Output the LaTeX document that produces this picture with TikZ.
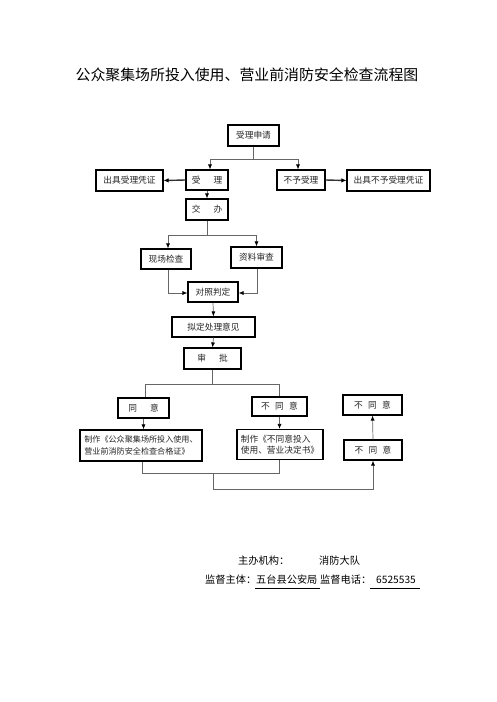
\documentclass[tikz,border=0pt]{standalone}
\usepackage{fontspec}
\setmainfont{Noto Sans CJK SC}
\usetikzlibrary{arrows.meta}
\tikzset{
  box/.style={draw=black, line width=1.1pt, minimum width=#1, inner sep=0pt, font=\fontsize{8.7}{11.5}\selectfont, text=black!85},
  box/.default=50pt,
  conn/.style={draw=black!60, line width=0.7pt},
  arr/.style={conn, -{Latex[length=5pt,width=4pt,black]}},
  tharr/.style={draw=black!80, line width=1.4pt, -{Latex[length=5pt,width=4.5pt,black]}},
}
\begin{document}
\begin{tikzpicture}[x=1pt,y=-1pt]
\useasboundingbox (0,0) rectangle (496,702);
\fill[white] (0,0) rectangle (496,702);
\node (title) at (247,75) {\fontsize{14.9}{17}\selectfont 公众聚集场所投入使用、营业前消防安全检查流程图};

\node[box=51pt, minimum height=21pt] (apply) at (253.5,135.5) {受理申请};
\node[box=42pt, minimum height=20pt] (accept) at (207,180) {受\hspace{1.5em}理};
\node[box=67pt, minimum height=21pt] (cert1) at (129.5,180.5) {出具受理凭证};
\node[box=48pt, minimum height=20pt] (reject) at (301,180) {不予受理};
\node[box=83pt, minimum height=21pt] (cert2) at (388.5,180.5) {出具不予受理凭证};
\node[box=42pt, minimum height=21pt] (assign) at (207,209.5) {交\hspace{1.5em}办};
\node[box=50pt, minimum height=20pt] (site) at (166,259) {现场检查};
\node[box=51pt, minimum height=21pt] (docs) at (256.5,257.5) {资料审查};
\node[box=50pt, minimum height=20pt] (compare) at (213,292) {对照判定};
\node[box=83pt, minimum height=20pt] (draft) at (213.5,327) {拟定处理意见};
\node[box=57pt, minimum height=21pt] (approve) at (212.5,358.5) {审\hspace{1.5em}批};
\node[box=51pt, minimum height=20pt] (agree) at (143.5,408) {同\hspace{1.5em}意};
\node[box=55pt, minimum height=19pt] (disagree) at (279.5,406.5) {不\hspace{0.6em}同\hspace{0.6em}意};
\node[box=122pt, minimum height=31pt, align=left, font=\fontsize{8.1}{11.5}\selectfont] (make1) at (141,445.5) {制作《公众聚集场所投入使用、\\营业前消防安全检查合格证》};
\node[box=86pt, minimum height=30pt, align=left] (make2) at (280,444.5) {制作《不同意投入\\使用、营业决定书》};
\node[box=58pt, minimum height=20pt] (nd2) at (373,450) {不\hspace{0.6em}同\hspace{0.6em}意};
\node[box=59pt, minimum height=20pt] (nd3) at (372.5,405) {不\hspace{0.6em}同\hspace{0.6em}意};

% connectors
\coordinate (j1) at (253.5,159);
\coordinate (j1l) at (210,159);
\coordinate (j1r) at (298,159);
\draw[conn] (apply.south) -- (j1);
\draw[conn] (j1l) -- (j1r);
\draw[arr] (j1l) -- (j1l |- accept.north);
\draw[arr] (j1r) -- (j1r |- reject.north);
\draw[tharr] (accept.west) -- (cert1.east);
\draw[tharr] (reject.east) -- (cert2.west);
\draw[arr] (accept.south) -- (assign.north);

\coordinate (j2) at (207,235);
\coordinate (j2l) at (168,235);
\coordinate (j2r) at (256.5,235);
\draw[conn] (assign.south) -- (j2);
\draw[conn] (j2l) -- (j2r);
\draw[arr] (j2l) -- (j2l |- site.north);
\draw[arr] (j2r) -- (docs.north);

\coordinate (s1) at (168,293);
\coordinate (s2) at (257,293);
\draw[arr] (s1 |- site.south) -- (s1) -- (compare.west |- s1);
\draw[arr] (s2 |- docs.south) -- (s2) -- (compare.east |- s2);
\draw[arr] (compare.south) -- (draft.north);
\draw[arr] (draft.south) -- (approve.north);

\coordinate (j3) at (212.5,384);
\coordinate (j3l) at (145,384);
\coordinate (j3r) at (279.5,384);
\draw[conn] (approve.south) -- (j3);
\draw[conn] (j3l) -- (j3r);
\draw[conn] (j3l) -- (j3l |- agree.north);
\draw[conn] (j3r) -- (disagree.north);
\draw[arr] (agree.south) -- (make1.north -| agree.south);
\draw[arr] (disagree.south) -- (make2.north -| disagree.south);

\coordinate (b1) at (142,473);
\coordinate (b2) at (279.5,473);
\coordinate (b3) at (213,473);
\coordinate (b4) at (213,489);
\coordinate (b5) at (373,489);
\draw[conn] (b1 |- make1.south) -- (b1) -- (b2) -- (b2 |- make2.south);
\draw[arr] (b3) -- (b4) -- (b5) -- (nd2.south);
\draw[arr] (nd2.north) -- (nd3.south);

% footer
\node[anchor=west, font=\fontsize{10.2}{12}\selectfont, inner sep=0pt] (org) at (238,561) {主办机构：};
\node[anchor=west, font=\fontsize{10.2}{12}\selectfont, inner sep=0pt] (team) at (319,561) {消防大队};
\node[anchor=west, font=\fontsize{10.2}{12}\selectfont, inner sep=0pt] (sup) at (205,580) {监督主体：};
\node[anchor=west, font=\fontsize{10.2}{12}\selectfont, inner sep=0pt] (bureau) at (256,580) {五台县公安局};
\node[anchor=west, font=\fontsize{10.2}{12}\selectfont, inner sep=0pt] (tel) at (320,580) {监督电话：};
\node[anchor=west, font=\fontsize{10.2}{12}\selectfont, inner sep=0pt] (num) at (376,580) {6525535};
\coordinate (u1) at (255,588);
\coordinate (u2) at (320,588);
\coordinate (u3) at (370,588);
\coordinate (u4) at (420,588);
\draw[line width=0.8pt] (u1) -- (u2);
\draw[line width=0.8pt] (u3) -- (u4);
\end{tikzpicture}
\end{document}
